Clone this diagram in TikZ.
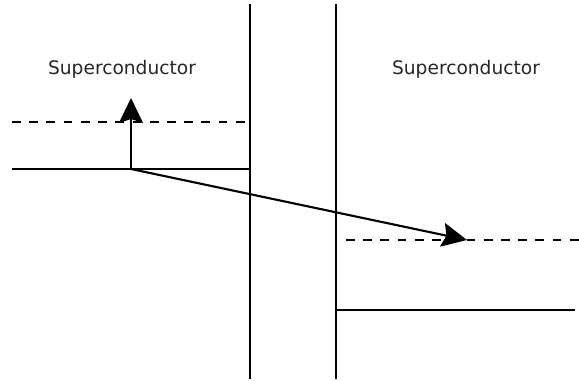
\documentclass[tikz,border=0pt]{standalone}
\usepackage{fontspec}
\setmainfont{DejaVu Sans}
\usetikzlibrary{arrows.meta}

\tikzset{
  level/.style={line width=1.2pt},
  gap/.style={level, dash pattern=on 5pt off 4.8pt},
  jump/.style={line width=1.2pt, -{Stealth[length=0.5cm, width=0.48cm, inset=0.08cm]}}
}

\begin{document}
\begin{tikzpicture}[x=0.02cm, y=-0.02cm]
        \useasboundingbox (0,0) rectangle (579,381);
        % barrier walls
        \coordinate (wlt) at (250,4);   \coordinate (wlb) at (250,379);
        \coordinate (wrt) at (336,4);   \coordinate (wrb) at (336,379);
        \draw[level] (wlt) -- (wlb);
        \draw[level] (wrt) -- (wrb);
        % left side levels
        \coordinate (lgs) at (12,122);  \coordinate (lge) at (250,122);
        \coordinate (lfs) at (12,169);  \coordinate (lfe) at (250,169);
        \draw[gap] (lgs) -- (lge);
        \draw[level] (lfs) -- (lfe);
        % right side levels
        \coordinate (rgs) at (346,240); \coordinate (rge) at (579,240);
        \coordinate (rfs) at (336,310); \coordinate (rfe) at (575,310);
        \draw[gap] (rgs) -- (rge);
        \draw[level] (rfs) -- (rfe);
        % labels
        \node[font=\fontsize{10.6}{13}\selectfont, text=black!85] (scl) at (122,69) {Superconductor};
        \node[font=\fontsize{10.6}{13}\selectfont, text=black!85] (scr) at (466,69) {Superconductor};
        % transitions
        \coordinate (start) at (131,169);
        \coordinate (up) at (131,98);
        \coordinate (across) at (467,240);
        \draw[jump] (start) -- (up);
        \draw[jump] (start) -- (across);
      \end{tikzpicture}
\end{document}
